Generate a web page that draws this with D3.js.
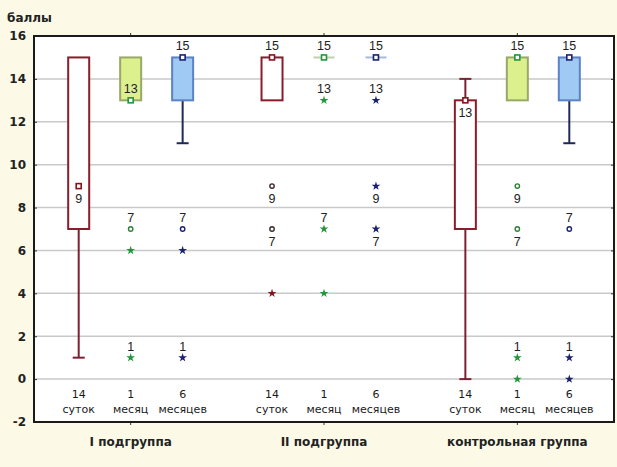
<!DOCTYPE html>
<html><head><meta charset="utf-8">
<script src="https://cdn.jsdelivr.net/npm/d3@7"></script>
<style>
html,body{margin:0;padding:0;background:#fcfae6;}
svg{display:block;}
</style></head><body>
<svg id="chart" width="617" height="467"></svg>
<script>
const groups = ["I подгруппа", "II подгруппа", "контрольная группа"];
const periods = ["14 суток", "1 месяц", "6 месяцев"];
const periodNumber = ["14", "1", "6"];
const periodUnit = ["суток", "месяц", "месяцев"];
const yTicks = [-2, 0, 2, 4, 6, 8, 10, 12, 14, 16];

// box statistics: rows = groups, columns = periods
const q1 = [[7, 13, 13], [13, 15, 15], [7, 13, 13]];
const q3 = [[15, 15, 15], [15, 15, 15], [13, 15, 15]];
const medians = [[9, 13, 15], [15, 15, 15], [13, 15, 15]];
const whiskerLow = [[1, 13, 11], [13, 15, 15], [0, 13, 11]];
const whiskerHigh = [[15, 15, 15], [15, 15, 15], [14, 15, 15]];

// outliers (circles) and extremes (stars): [group, period, value]
const outliers = [[0, 1, 7], [0, 2, 7], [1, 0, 9], [1, 0, 7], [2, 1, 9], [2, 1, 7], [2, 2, 7]];
const extremes = [[0, 1, 6], [0, 1, 1], [0, 2, 6], [0, 2, 1],
  [1, 0, 4], [1, 1, 13], [1, 1, 7], [1, 1, 4], [1, 2, 13], [1, 2, 9], [1, 2, 7],
  [2, 1, 1], [2, 1, 0], [2, 2, 1], [2, 2, 0]];

// value labels: [group, period, value, side]  (side -1: above the mark, 1: below)
const valueLabels = [
  [0, 0, 9, 1], [0, 1, 13, -1], [0, 1, 7, -1], [0, 1, 1, -1], [0, 2, 15, -1], [0, 2, 7, -1], [0, 2, 1, -1],
  [1, 0, 15, -1], [1, 0, 9, 1], [1, 0, 7, 1], [1, 1, 15, -1], [1, 1, 13, -1], [1, 1, 7, -1],
  [1, 2, 15, -1], [1, 2, 13, -1], [1, 2, 9, 1], [1, 2, 7, 1],
  [2, 0, 13, 1], [2, 1, 15, -1], [2, 1, 9, 1], [2, 1, 7, 1], [2, 1, 1, -1],
  [2, 2, 15, -1], [2, 2, 7, -1], [2, 2, 1, -1]
];

// styling per period
const boxStroke = ["#8a1c2c", "#98a866", "#5a82c4"];
const boxFill = ["#ffffff", "#dcf18e", "#a0caf3"];
const whiskerColor = ["#7a2232", "#7a8a4a", "#1e2a55"];
const markColor = ["#8a1020", "#22963a", "#1c2170"];
const circleColor = ["#3a2a2a", "#2f7f3a", "#1c2170"];

const W = 617, H = 467;
const M = {left: 34, right: 3, top: 36, bottom: 45};
const svg = d3.select("#chart");

svg.append("rect").attr("width", W).attr("height", H).attr("fill", "#fcfae6");

const x0 = d3.scaleBand().domain(groups).range([M.left, W - M.right]).padding(0);
const x1 = d3.scalePoint().domain(periods).range([0, x0.bandwidth()]).padding(0.86);
const y = d3.scaleLinear().domain([-2, 16]).range([H - M.bottom, M.top]);
const cx = (g, p) => x0(groups[g]) + x1(periods[p]);

// plot area
svg.append("rect")
  .attr("x", M.left).attr("y", M.top)
  .attr("width", W - M.left - M.right).attr("height", H - M.top - M.bottom)
  .attr("fill", "#ffffff");

// horizontal gridlines
svg.append("g").selectAll("line")
  .data(yTicks.filter(t => t > -2 && t < 16))
  .join("line")
  .attr("x1", M.left).attr("x2", W - M.right)
  .attr("y1", d => y(d)).attr("y2", d => y(d))
  .attr("stroke", "#c9c9c9").attr("stroke-width", 1.5);

// y axis (left) with inward ticks
const yAxis = svg.append("g").attr("transform", `translate(${M.left},0)`)
  .call(d3.axisLeft(y).tickValues(yTicks).tickFormat(d => String(d))
    .tickSizeInner(-3).tickSizeOuter(0).tickPadding(8));
yAxis.select(".domain").remove();
yAxis.selectAll("line").attr("stroke", "#333");
yAxis.selectAll("text").attr("font-family", "DejaVu Sans").attr("font-weight", "bold")
  .attr("font-size", 12).attr("fill", "#222");

// right side inward ticks
const yAxisR = svg.append("g").attr("transform", `translate(${W - M.right},0)`)
  .call(d3.axisRight(y).tickValues(yTicks).tickFormat("").tickSizeInner(-3).tickSizeOuter(0));
yAxisR.select(".domain").remove();
yAxisR.selectAll("line").attr("stroke", "#333");

// group axis at the bottom
const xAxis = svg.append("g").attr("transform", `translate(0,${H - M.bottom})`)
  .call(d3.axisBottom(x0).tickSizeInner(3).tickSizeOuter(0).tickPadding(12));
xAxis.select(".domain").remove();
xAxis.selectAll("line").attr("stroke", "#333");
xAxis.selectAll("text").attr("font-family", "DejaVu Sans").attr("font-weight", "bold")
  .attr("font-size", 12).attr("fill", "#222");

// top ticks at group centres
svg.append("g").attr("transform", `translate(0,${M.top})`)
  .call(d3.axisTop(x0).tickSizeInner(3).tickSizeOuter(0).tickFormat(""))
  .call(g => g.select(".domain").remove())
  .selectAll("line").attr("stroke", "#333");

// period labels in each group
const cells = [];
groups.forEach((g, gi) => periods.forEach((p, pi) => cells.push({gi, pi})));

const catLabels = svg.append("g").attr("font-family", "DejaVu Sans").attr("font-size", 11)
  .attr("fill", "#1a1a1a").attr("text-anchor", "middle");
catLabels.selectAll("text.num").data(cells).join("text").attr("class", "num")
  .attr("x", d => cx(d.gi, d.pi)).attr("y", y(0) + 19).text(d => periodNumber[d.pi]);
catLabels.selectAll("text.unit").data(cells).join("text").attr("class", "unit")
  .attr("x", d => cx(d.gi, d.pi)).attr("y", y(0) + 34).text(d => periodUnit[d.pi]);

// whiskers
const capHalf = 6;
const marks = svg.append("g");
cells.forEach(({gi, pi}) => {
  const xc = cx(gi, pi);
  const segs = [];
  if (whiskerLow[gi][pi] < q1[gi][pi]) segs.push([whiskerLow[gi][pi], q1[gi][pi]]);
  if (whiskerHigh[gi][pi] > q3[gi][pi]) segs.push([q3[gi][pi], whiskerHigh[gi][pi]]);
  segs.forEach(([a, b]) => {
    marks.append("line").attr("x1", xc).attr("x2", xc).attr("y1", y(a)).attr("y2", y(b))
      .attr("stroke", whiskerColor[pi]).attr("stroke-width", 2);
  });
  if (whiskerLow[gi][pi] < q1[gi][pi]) {
    marks.append("line").attr("x1", xc - capHalf).attr("x2", xc + capHalf)
      .attr("y1", y(whiskerLow[gi][pi])).attr("y2", y(whiskerLow[gi][pi]))
      .attr("stroke", whiskerColor[pi]).attr("stroke-width", 2);
  }
  if (whiskerHigh[gi][pi] > q3[gi][pi]) {
    marks.append("line").attr("x1", xc - capHalf).attr("x2", xc + capHalf)
      .attr("y1", y(whiskerHigh[gi][pi])).attr("y2", y(whiskerHigh[gi][pi]))
      .attr("stroke", whiskerColor[pi]).attr("stroke-width", 2);
  }
});

// boxes
const boxHalf = 10.5;
cells.forEach(({gi, pi}) => {
  const xc = cx(gi, pi);
  const lo = q1[gi][pi], hi = q3[gi][pi];
  if (hi > lo) {
    marks.append("rect").attr("x", xc - boxHalf).attr("width", boxHalf * 2)
      .attr("y", y(hi)).attr("height", y(lo) - y(hi))
      .attr("fill", boxFill[pi]).attr("stroke", boxStroke[pi]).attr("stroke-width", 2);
  } else {
    marks.append("line").attr("x1", xc - boxHalf).attr("x2", xc + boxHalf)
      .attr("y1", y(hi)).attr("y2", y(hi))
      .attr("stroke", boxStroke[pi]).attr("stroke-opacity", 0.55).attr("stroke-width", 2);
  }
});

// medians
marks.selectAll("rect.median").data(cells).join("rect").attr("class", "median")
  .attr("x", d => cx(d.gi, d.pi) - 2.5).attr("y", d => y(medians[d.gi][d.pi]) - 2.5)
  .attr("width", 5).attr("height", 5)
  .attr("fill", "#fff").attr("stroke", d => markColor[d.pi]).attr("stroke-width", 1.6);

// outliers
marks.selectAll("circle.outlier").data(outliers).join("circle").attr("class", "outlier")
  .attr("cx", d => cx(d[0], d[1])).attr("cy", d => y(d[2])).attr("r", 2.2)
  .attr("fill", "#fff").attr("stroke", d => circleColor[d[1]]).attr("stroke-width", 1.4);

// extremes
const star = d3.symbol().type(d3.symbolStar).size(24);
marks.selectAll("path.extreme").data(extremes).join("path").attr("class", "extreme")
  .attr("transform", d => `translate(${cx(d[0], d[1])},${y(d[2])})`)
  .attr("d", star).attr("fill", d => markColor[d[1]]);

// value labels
svg.append("g").attr("font-family", "Liberation Sans").attr("font-size", 12.5)
  .attr("fill", "#222").attr("text-anchor", "middle")
  .selectAll("text").data(valueLabels).join("text")
  .attr("x", d => cx(d[0], d[1]))
  .attr("y", d => y(d[2]) + (d[3] < 0 ? -7 : 17))
  .text(d => d[2]);

// frame
svg.append("rect")
  .attr("x", M.left).attr("y", M.top)
  .attr("width", W - M.left - M.right).attr("height", H - M.top - M.bottom)
  .attr("fill", "none").attr("stroke", "#1a1a1a").attr("stroke-width", 2);

// axis title
svg.append("text").attr("x", 7).attr("y", 22)
  .attr("font-family", "DejaVu Sans").attr("font-weight", "bold").attr("font-size", 12)
  .attr("fill", "#222").text("баллы");
</script>
</body></html>
